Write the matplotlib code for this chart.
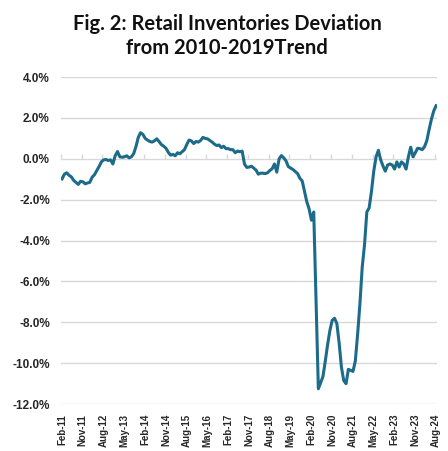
import matplotlib
matplotlib.use("Agg")
import matplotlib.pyplot as plt
import numpy as np
import pandas as pd

start_month = "2011-02"
values = [
    # 2011 Feb-Dec
    -0.98, -0.75, -0.68, -0.80, -0.88, -1.05, -1.15, -1.25, -1.10, -1.12, -1.22,
    # 2012
    -1.18, -1.15, -0.90, -0.78, -0.58, -0.38, -0.15, -0.05, -0.03, -0.08, -0.05, -0.25,
    # 2013
    0.15, 0.36, 0.10, 0.08, 0.10, 0.15, 0.05, 0.10, 0.25, 0.60, 1.05, 1.28,
    # 2014
    1.20, 1.00, 0.92, 0.85, 0.82, 0.88, 0.98, 0.85, 0.70, 0.62, 0.52, 0.32,
    # 2015
    0.18, 0.22, 0.15, 0.30, 0.25, 0.35, 0.45, 0.70, 0.92, 0.88, 0.75, 0.85,
    # 2016
    0.82, 0.90, 1.05, 1.00, 0.98, 0.90, 0.82, 0.72, 0.65, 0.68, 0.55, 0.62,
    # 2017
    0.50, 0.50, 0.45, 0.45, 0.30, 0.38, 0.35, 0.38, -0.25, -0.42, -0.40, -0.36,
    # 2018
    -0.45, -0.55, -0.75, -0.70, -0.70, -0.72, -0.68, -0.57, -0.48, -0.25, -0.65, 0.00,
    # 2019
    0.16, 0.05, -0.10, -0.38, -0.45, -0.52, -0.62, -0.72, -0.95, -1.08, -1.60, -2.10,
    # 2020
    -2.45, -3.00, -2.60, -7.00, -11.25, -10.95, -10.65, -9.90, -9.10, -8.40, -7.90, -7.80,
    # 2021
    -8.05, -9.00, -10.20, -10.85, -11.00, -10.30, -10.35, -10.40, -9.90, -8.60, -7.10, -5.30,
    # 2022
    -4.20, -2.60, -2.40, -1.60, -0.60, 0.10, 0.42, -0.05, -0.35, -0.60, -0.30, -0.25,
    # 2023
    -0.30, -0.50, -0.15, -0.40, -0.15, -0.25, -0.50, 0.10, 0.57, 0.10, 0.30, 0.52,
    # 2024 Jan-Aug
    0.50, 0.45, 0.60, 0.90, 1.45, 1.95, 2.35, 2.60,
]
months = pd.date_range(start_month, periods=len(values), freq="MS")
label_step = 9
y_ticks = [-12, -10, -8, -6, -4, -2, 0, 2, 4]
title = "Fig. 2: Retail Inventories Deviation\nfrom 2010-2019Trend"

line_color = "#1d6b8a"
grid_color = "#d9d9d9"
text_color = "#262626"

fig = plt.figure(figsize=(4.48, 4.51), dpi=100)
ax = fig.add_axes([0.136, 0.104, 0.84, 0.725])

x = np.arange(len(values))
ax.plot(x, values, color=line_color, lw=2.2, solid_joinstyle="round", zorder=3)

ax.set_ylim(-12, 4)
ax.set_xlim(-0.5, len(values) - 0.5)
ax.set_yticks(y_ticks)
ax.set_yticklabels([f"{v:.1f}%" for v in y_ticks], fontsize=8.5,
                   fontweight="bold", color=text_color, family="Liberation Sans")
ax.yaxis.grid(True, color=grid_color, lw=1.0, zorder=0)
ax.tick_params(axis="y", length=0, pad=8)

tick_idx = x[::label_step]
ax.set_xticks(tick_idx)
ax.set_xticklabels([months[i].strftime("%b-%y") for i in tick_idx], rotation=90,
                   fontsize=7, fontweight="bold", color=text_color,
                   family="Liberation Sans")
ax.tick_params(axis="x", length=0, pad=7)

for s in ax.spines.values():
    s.set_visible(False)

# category axis crossing at zero with small tick marks
sec = ax.secondary_xaxis((0 - (-12)) / 16)
sec.set_xticks(tick_idx - 0.5)
sec.set_xticklabels([])
sec.tick_params(axis="x", direction="out", length=3.5, color=grid_color, width=1)
sec.spines["bottom"].set_color(grid_color)
sec.spines["bottom"].set_linewidth(1.0)
for k in ("top", "left", "right"):
    if k in sec.spines:
        sec.spines[k].set_visible(False)

fig.text(0.507, 0.968, title, ha="center", va="top", fontsize=14.5,
         fontweight="bold", color="#111111", family="Lato", linespacing=1.25)

fig.savefig("out.png", dpi=100)
